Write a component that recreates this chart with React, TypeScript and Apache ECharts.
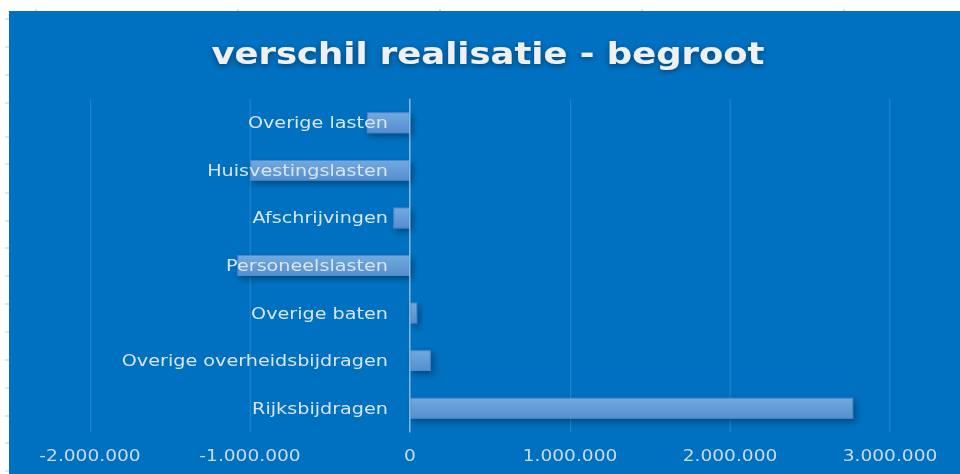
import React, { useEffect, useRef } from "react";
import * as echarts from "echarts";

const categories = [
  "Rijksbijdragen",
  "Overige overheidsbijdragen",
  "Overige baten",
  "Personeelslasten",
  "Afschrijvingen",
  "Huisvestingslasten",
  "Overige lasten",
];
const values = [2770000, 130000, 45000, -1080000, -105000, -1000000, -270000];
const titleText = "verschil realisatie - begroot";
const xMin = -2000000;
const xMax = 3000000;
const xStep = 1000000;

// The reference picture is stretched horizontally; the chart is drawn at
// 800px wide and stretched by CSS to 960px.
const SX = 1.2;
const W = 960 / SX;

function fmt(v: number): string {
  const neg = v < 0;
  const s = Math.abs(Math.round(v)).toString();
  const parts: string[] = [];
  for (let i = s.length; i > 0; i -= 3) parts.unshift(s.slice(Math.max(0, i - 3), i));
  return (neg ? "-" : "") + parts.join(".");
}

export default function App() {
  const ref = useRef<HTMLDivElement>(null);
  useEffect(() => {
    if (!ref.current) return;
    const chart = echarts.init(ref.current, undefined, { renderer: "svg" });
    const leftTicks = [19, 47, 75, 103, 137, 164, 193, 221, 248, 276, 304, 332, 360, 388, 416, 443, 471];
    const topTicks = [36, 238, 440, 642, 844];
    const graphics: any[] = [
      {
        type: "rect",
        z: -10,
        silent: true,
        shape: { x: 9 / SX, y: 11, width: W, height: 463 },
        style: { fill: "#0070C0" },
      },
    ];
    leftTicks.forEach((y) =>
      graphics.push({
        type: "line",
        z: -10,
        silent: true,
        shape: { x1: 5 / SX, y1: y, x2: 9 / SX, y2: y },
        style: { stroke: "#c8c8c8", lineWidth: 1 },
      })
    );
    topTicks.forEach((x) =>
      graphics.push({
        type: "line",
        z: -10,
        silent: true,
        shape: { x1: x / SX, y1: 9, x2: x / SX, y2: 11 },
        style: { stroke: "#c8c8c8", lineWidth: 1 },
      })
    );
    chart.setOption({
      animation: false,
      backgroundColor: "#ffffff",
      graphic: graphics,
      title: {
        text: titleText,
        left: 482 / SX,
        textAlign: "center",
        top: 34,
        textStyle: {
          color: "#f0f0f0",
          fontFamily: "DejaVu Sans",
          fontWeight: "bold",
          fontSize: 29.5,
          textShadowColor: "rgba(0,0,0,0.4)",
          textShadowBlur: 5,
          textShadowOffsetY: 2,
        },
      },
      grid: {
        left: 90 / SX,
        right: 70 / SX,
        top: 99,
        bottom: 42,
        containLabel: false,
        outerBoundsMode: "none",
      },
      xAxis: {
        type: "value",
        min: xMin,
        max: xMax,
        interval: xStep,
        axisLine: { show: false },
        axisTick: { show: false },
        splitLine: { lineStyle: { color: "rgba(255,255,255,0.14)", width: 1 } },
        axisLabel: {
          color: "#c9dbee",
          fontFamily: "DejaVu Sans",
          fontSize: 15.5,
          margin: 16,
          formatter: (v: number) => fmt(v),
        },
      },
      yAxis: {
        type: "category",
        data: categories,
        position: "left",
        offset: -320 / SX,
        z: 10,
        axisLine: { onZero: false, lineStyle: { color: "#9fc3e8", width: 1 } },
        axisTick: { show: false },
        splitLine: { show: false },
        axisLabel: {
          color: "#d9e5f2",
          fontFamily: "DejaVu Sans",
          fontSize: 16,
          margin: 22 / SX,
        },
      },
      series: [
        {
          type: "bar",
          data: values,
          barWidth: "44%",
          itemStyle: {
            color: new echarts.graphic.LinearGradient(0, 0, 0, 1, [
              { offset: 0, color: "#72a9de" },
              { offset: 1, color: "#558fcf" },
            ]),
            borderColor: "#4d88c8",
            borderWidth: 1,
            shadowColor: "rgba(0,0,0,0.35)",
            shadowBlur: 6,
            shadowOffsetY: 3,
            shadowOffsetX: 2,
          },
        },
      ],
    });
    return () => chart.dispose();
  }, []);
  return (
    <div
      ref={ref}
      style={{
        position: "absolute",
        left: 0,
        top: 0,
        width: W,
        height: 474,
        transform: `scaleX(${SX})`,
        transformOrigin: "0 0",
      }}
    />
  );
}
